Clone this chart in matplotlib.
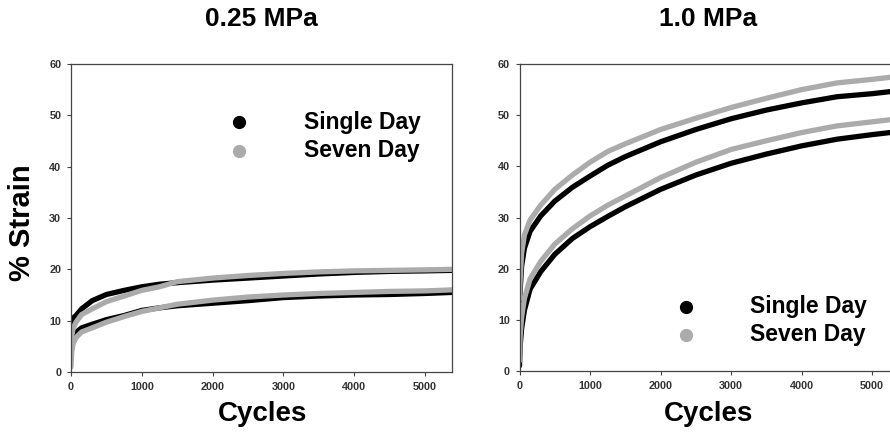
import matplotlib
matplotlib.use("Agg")
import matplotlib.pyplot as plt

plt.rcParams['font.family'] = ['Liberation Sans', 'DejaVu Sans']

cycles = [0, 10, 30, 70, 150, 300, 500, 750, 1000, 1250, 1500, 2000, 2500,
          3000, 3500, 4000, 4500, 5000, 5380]

# 0.25 MPa
low_single_upper = [8, 9.5, 10.5, 11, 12.3, 13.9, 15.1, 15.9, 16.6, 17.1, 17.4,
                    17.9, 18.3, 18.7, 19.1, 19.4, 19.6, 19.7, 19.8]
low_seven_upper = [5, 7, 8.5, 9.7, 11.2, 12.3, 13.7, 14.8, 15.9, 16.6, 17.6,
                   18.3, 18.8, 19.2, 19.5, 19.7, 19.8, 19.9, 20.0]
low_single_lower = [3, 5, 6.5, 7.7, 8.6, 9.3, 10.2, 11.0, 12.0, 12.5, 12.9,
                    13.4, 13.9, 14.5, 14.8, 15.0, 15.1, 15.3, 15.5]
low_seven_lower = [1, 4, 5.5, 6.7, 7.8, 8.6, 9.7, 10.8, 11.8, 12.5, 13.2,
                   14.0, 14.6, 15.0, 15.3, 15.5, 15.7, 15.8, 16.0]

# 1.0 MPa
high_seven_upper = [14, 18, 23, 26.6, 29.5, 32.4, 35.5, 38.3, 40.8, 42.9, 44.4,
                    47.2, 49.4, 51.5, 53.3, 55.0, 56.3, 57.0, 57.6]
high_single_upper = [13, 16, 20.5, 24, 27.3, 30.3, 33.2, 35.9, 38.1, 40.2, 41.9,
                     44.8, 47.2, 49.3, 51.0, 52.4, 53.6, 54.2, 54.8]
high_seven_lower = [2, 7, 10.5, 14.2, 18, 21.4, 24.8, 27.8, 30.3, 32.4, 34.2,
                    37.8, 40.8, 43.3, 45.0, 46.6, 47.9, 48.7, 49.3]
high_single_lower = [1, 5, 8.3, 11.9, 16, 19.4, 22.8, 25.9, 28.2, 30.2, 32.1,
                     35.5, 38.3, 40.6, 42.4, 44.0, 45.3, 46.2, 46.8]

titles = ["0.25 MPa", "1.0 MPa"]
legend_labels = ["Single Day", "Seven Day"]
yticks = [0, 10, 20, 30, 40, 50, 60]
xticks = [0, 1000, 2000, 3000, 4000, 5000]

BLACK = "#000000"
GRAY = "#ababab"
W, H = 890, 437

fig = plt.figure(figsize=(W / 100, H / 100), dpi=100)

def frac(x0, y0, x1, y1):
    return [x0 / W, 1 - y1 / H, (x1 - x0) / W, (y1 - y0) / H]

ax1 = fig.add_axes(frac(71, 64, 452, 372))
ax2 = fig.add_axes(frac(519.5, 64, 519.5 + 5380 * 0.07054, 371))

panels = [
    (ax1, [(low_single_upper, BLACK), (low_single_lower, BLACK),
           (low_seven_upper, GRAY), (low_seven_lower, GRAY)]),
    (ax2, [(high_single_upper, BLACK), (high_single_lower, BLACK),
           (high_seven_upper, GRAY), (high_seven_lower, GRAY)]),
]

for ax, series in panels:
    for ys, c in series:
        ax.plot(cycles, ys, color=c, lw=3.8, solid_capstyle='round',
                solid_joinstyle='round')
    ax.set_xlim(0, 5380)
    ax.set_ylim(0, 60)
    ax.set_xticks(xticks)
    ax.set_yticks(yticks)
    ax.tick_params(direction='out', length=3, width=0.8, color='#444444',
                   labelsize=7.8, labelcolor='#333333', pad=4)
    for lab in ax.get_xticklabels() + ax.get_yticklabels():
        lab.set_fontweight('bold')
    for sp in ax.spines.values():
        sp.set_color('#444444')
        sp.set_linewidth(0.9)

# Titles
fig.text(261.5 / W, 1 - 19 / H, titles[0], ha='center', va='center',
         fontsize=19, fontweight='bold')
fig.text(708 / W, 1 - 19 / H, titles[1], ha='center', va='center',
         fontsize=19, fontweight='bold')

# Axis labels
fig.text(22.5 / W, 1 - 223 / H, "% Strain", ha='center', va='center',
         rotation=90, fontsize=21, fontweight='bold')
fig.text(262.5 / W, 1 - 414 / H, "Cycles", ha='center', va='center',
         fontsize=20, fontweight='bold')
fig.text(708.5 / W, 1 - 414 / H, "Cycles", ha='center', va='center',
         fontsize=20, fontweight='bold')

# Legends (drawn as figure-level markers + text)
def legend(mx, my1, my2, tx):
    fig.lines.append(plt.Line2D([mx / W], [1 - my1 / H], marker='o', ms=8.5,
                                color=BLACK, mec=BLACK, ls='none',
                                transform=fig.transFigure))
    fig.lines.append(plt.Line2D([mx / W], [1 - my2 / H], marker='o', ms=8.5,
                                color=GRAY, mec=GRAY, ls='none',
                                transform=fig.transFigure))
    fig.text(tx / W, 1 - my1 / H, legend_labels[0], ha='left', va='center',
             fontsize=16.5, fontweight='bold')
    fig.text(tx / W, 1 - my2 / H, legend_labels[1], ha='left', va='center',
             fontsize=16.5, fontweight='bold')

legend(239, 122, 151, 304)
legend(686, 306.5, 335, 750)

fig.savefig("out.png", dpi=100)
